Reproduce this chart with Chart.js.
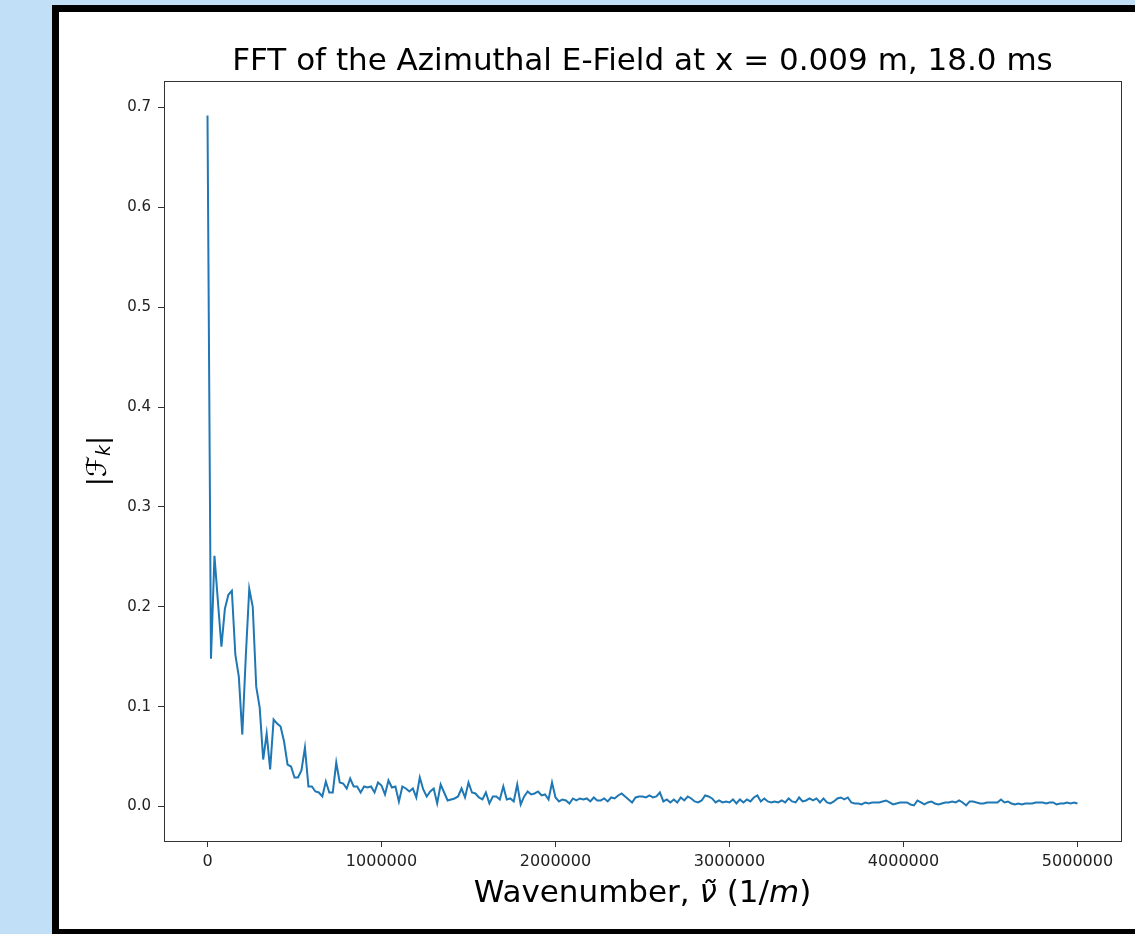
<!DOCTYPE html>
<html>
<head>
<meta charset="utf-8">
<script src="https://cdn.jsdelivr.net/npm/chart.js@4"></script>
<style>
  html, body { margin: 0; padding: 0; }
  body { width: 1135px; height: 934px; overflow: hidden; background: #c1dff7; position: relative; }
  #frame {
    position: absolute; left: 52px; top: 5px; width: 1200px; height: 931px;
    box-sizing: border-box; border: 7px solid #000; background: #fff;
  }
  #plot { position: absolute; left: 0; top: 0; }
</style>
</head>
<body>
<div id="frame">
  <canvas id="plot" width="1076" height="917"></canvas>
</div>
<script>
// |F_k| sampled every 20000 1/m, from 0 up to 5e6
const waveStep = 20000;
const amplitude = [
  0.692, 0.148, 0.251, 0.205, 0.160, 0.198, 0.212, 0.216, 0.152, 0.130,
  0.072, 0.150, 0.218, 0.200, 0.120, 0.099, 0.047, 0.073, 0.037, 0.087,
  0.083, 0.080, 0.065, 0.042, 0.040, 0.029, 0.029, 0.036, 0.059, 0.020,
  0.020, 0.015, 0.014, 0.010, 0.025, 0.014, 0.014, 0.044, 0.024, 0.023,
  0.018, 0.028, 0.020, 0.020, 0.014, 0.020, 0.019, 0.020, 0.014, 0.024,
  0.021, 0.012, 0.026, 0.019, 0.020, 0.005, 0.020, 0.018, 0.015, 0.018,
  0.009, 0.029, 0.017, 0.010, 0.015, 0.018, 0.003, 0.022, 0.014, 0.006,
  0.007, 0.008, 0.010, 0.018, 0.009, 0.024, 0.014, 0.013, 0.009, 0.007,
  0.014, 0.003, 0.010, 0.010, 0.007, 0.020, 0.007, 0.008, 0.005, 0.022,
  0.002, 0.010, 0.015, 0.012, 0.013, 0.015, 0.011, 0.012, 0.007, 0.024,
  0.009, 0.005, 0.007, 0.006, 0.003, 0.008, 0.006, 0.008, 0.007, 0.008,
  0.005, 0.009, 0.006, 0.006, 0.008, 0.005, 0.009, 0.008, 0.011, 0.013,
  0.010, 0.007, 0.004, 0.009, 0.010, 0.010, 0.009, 0.011, 0.009, 0.010,
  0.014, 0.005, 0.007, 0.004, 0.007, 0.004, 0.009, 0.006, 0.010, 0.008,
  0.005, 0.004, 0.006, 0.011, 0.010, 0.008, 0.004, 0.006, 0.004, 0.005,
  0.004, 0.007, 0.003, 0.007, 0.004, 0.007, 0.005, 0.009, 0.011, 0.005,
  0.008, 0.005, 0.004, 0.005, 0.004, 0.006, 0.004, 0.008, 0.005, 0.004,
  0.009, 0.005, 0.006, 0.008, 0.006, 0.008, 0.004, 0.008, 0.004, 0.003,
  0.005, 0.008, 0.009, 0.007, 0.009, 0.004, 0.003, 0.003, 0.002, 0.004,
  0.003, 0.004, 0.004, 0.004, 0.005, 0.006, 0.004, 0.002, 0.003, 0.004,
  0.004, 0.004, 0.002, 0.001, 0.006, 0.004, 0.002, 0.004, 0.005, 0.003,
  0.002, 0.003, 0.004, 0.004, 0.005, 0.004, 0.006, 0.004, 0.001, 0.005,
  0.005, 0.004, 0.003, 0.003, 0.004, 0.004, 0.004, 0.004, 0.007, 0.004,
  0.005, 0.003, 0.002, 0.003, 0.002, 0.003, 0.003, 0.003, 0.004, 0.004,
  0.004, 0.003, 0.004, 0.004, 0.002, 0.003, 0.003, 0.004, 0.003, 0.004,
  0.003
];

const xTickValues = [0, 1000000, 2000000, 3000000, 4000000, 5000000];
const xTickLabels = ["0", "1000000", "2000000", "3000000", "4000000", "5000000"];
const yTickValues = [0, 0.1, 0.2, 0.3, 0.4, 0.5, 0.6, 0.7];
const yTickLabels = ["0.0", "0.1", "0.2", "0.3", "0.4", "0.5", "0.6", "0.7"];

const titleText = "FFT of the Azimuthal E-Field at x = 0.009 m, 18.0 ms";
const FONT = "DejaVu Sans";

const points = amplitude.map((v, i) => ({ x: i * waveStep, y: v }));

// axis labels with italic math pieces
const xLabelRuns = [
  { text: "Wavenumber, " },
  { text: "\u03BD\u0303", italic: true },
  { text: " (1/" },
  { text: "m", italic: true },
  { text: ")" }
];
const yLabelRuns = [
  { text: "|" },
  { text: "\u2131", italic: true },
  { text: "k", italic: true, size: 19, dy: 6 },
  { text: "|" }
];

function drawRuns(ctx, runs, cx, cy, size) {
  const fontOf = r => (r.italic ? "italic " : "") + (r.size || size) + "px '" + FONT + "'";
  let total = 0;
  runs.forEach(r => { ctx.font = fontOf(r); r.w = ctx.measureText(r.text).width; total += r.w; });
  let x = cx - total / 2;
  runs.forEach(r => {
    ctx.font = fontOf(r);
    ctx.fillText(r.text, x, cy + (r.dy || 0));
    x += r.w;
  });
}

const frameAndLabels = {
  id: "frameAndLabels",
  afterDatasetsDraw(chart) {
    const { ctx, chartArea: a } = chart;
    ctx.save();
    ctx.strokeStyle = "#333";
    ctx.lineWidth = 1;
    ctx.strokeRect(Math.round(a.left) + 0.5, Math.round(a.top) + 0.5,
      Math.round(a.right - a.left), Math.round(a.bottom - a.top));
    ctx.restore();
  },
  afterDraw(chart) {
    const { ctx, chartArea: a } = chart;
    ctx.save();
    ctx.fillStyle = "#000";
    ctx.textAlign = "left";
    ctx.textBaseline = "middle";
    drawRuns(ctx, xLabelRuns, (a.left + a.right) / 2, a.bottom + 53, 31);
    ctx.translate(a.left - 65, (a.top + a.bottom) / 2);
    ctx.rotate(-Math.PI / 2);
    drawRuns(ctx, yLabelRuns, 0, 0, 27);
    ctx.restore();
  }
};

new Chart(document.getElementById("plot"), {
  type: "line",
  data: {
    datasets: [{
      data: points,
      borderColor: "#1f77b4",
      borderWidth: 2,
      pointRadius: 0,
      tension: 0,
      fill: false
    }]
  },
  options: {
    responsive: false,
    animation: false,
    layout: { padding: { left: 0, right: 14, top: 0, bottom: 0 } },
    plugins: {
      legend: { display: false },
      tooltip: { enabled: false },
      title: {
        display: true,
        fullSize: false,
        text: titleText,
        color: "#000",
        font: { family: FONT, size: 31, weight: "normal", lineHeight: 1.2 },
        padding: { top: 31.2, bottom: 0.6 }
      }
    },
    scales: {
      x: {
        type: "linear",
        min: -250000,
        max: 5250000,
        afterBuildTicks: s => { s.ticks = xTickValues.map(v => ({ value: v })); },
        afterFit: s => { s.height = 88; },
        grid: { drawOnChartArea: false, drawTicks: true, tickLength: 6, tickColor: "#333" },
        border: { display: false },
        ticks: {
          color: "#222",
          font: { family: FONT, size: 16 },
          padding: 5,
          maxRotation: 0,
          callback: v => xTickLabels[xTickValues.indexOf(v)]
        }
      },
      y: {
        type: "linear",
        min: -0.0346,
        max: 0.7266,
        afterBuildTicks: s => { s.ticks = yTickValues.map(v => ({ value: v })); },
        afterFit: s => { s.width = 105; },
        grid: { drawOnChartArea: false, drawTicks: true, tickLength: 6, tickColor: "#333" },
        border: { display: false },
        ticks: {
          color: "#222",
          font: { family: FONT, size: 15 },
          padding: 7,
          callback: v => yTickLabels[yTickValues.findIndex(t => Math.abs(t - v) < 1e-9)]
        }
      }
    }
  },
  plugins: [frameAndLabels]
});
</script>
</body>
</html>
